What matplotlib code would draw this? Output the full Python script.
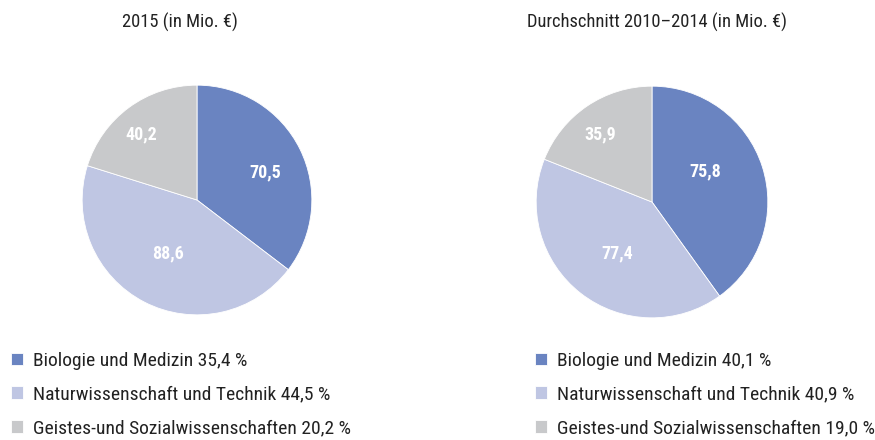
import numpy as np
import matplotlib
matplotlib.use("Agg")
import matplotlib.pyplot as plt

plt.rcParams["font.family"] = ["Roboto Condensed", "DejaVu Sans"]

# Data #

categories = ["Biologie und Medizin", "Naturwissenschaft und Technik",
              "Geistes-und Sozialwissenschaften"]
values_2015 = [70.5, 88.6, 40.2]
share_2015 = ["35,4", "44,5", "20,2"]
values_avg = [75.8, 77.4, 35.9]
share_avg = ["40,1", "40,9", "19,0"]
titles = ["2015 (in Mio. €)", "Durchschnitt 2010–2014 (in Mio. €)"]

colors = ["#6a84c1", "#bfc6e3", "#c8c9cb"]

W, H = 875, 440


def px_axes(fig, cx, cy, r):
    return fig.add_axes([(cx - r) / W, (H - cy - r) / H, 2 * r / W, 2 * r / H])


def draw_pie(ax, values, label_pos):
    wedges, _ = ax.pie(values, colors=colors, startangle=90, counterclock=False,
                       radius=1, wedgeprops=dict(linewidth=0.6, edgecolor="white"))
    # value labels, nudged (angle shift, radius factor) like the original
    for w, v, (dang, rf) in zip(wedges, values, label_pos):
        mid = np.deg2rad((w.theta1 + w.theta2) / 2 + dang)
        ax.text(rf * np.cos(mid), rf * np.sin(mid), f"{v:.1f}".replace(".", ","),
                ha="center", va="center", color="white", fontsize=13,
                fontweight="bold")
    ax.set_xlim(-1.01, 1.01)
    ax.set_ylim(-1.01, 1.01)
    ax.set_aspect("equal")
    ax.axis("off")
    return wedges


fig = plt.figure(figsize=(W / 100, H / 100), dpi=100)

ax1 = px_axes(fig, 197, 200, 116)
w1 = draw_pie(ax1, values_2015, [(-4, 0.64), (-1.5, 0.53), (4.4, 0.75)])
ax2 = px_axes(fig, 652, 202, 117)
w2 = draw_pie(ax2, values_avg, [(12, 0.53), (4, 0.54), (3.2, 0.73)])

fig.text(180 / W, 1 - 22 / H, titles[0], ha="center", va="center",
         fontsize=13.3, color="#222222")
fig.text(657 / W, 1 - 22 / H, titles[1], ha="center", va="center",
         fontsize=13.3, color="#222222")

# Legends below each pie #

for wedges, shares, x0 in [(w1, share_2015, 11), (w2, share_avg, 535)]:
    labels = [f"{c} {s} %" for c, s in zip(categories, shares)]
    fig.legend(wedges, labels, loc="upper left",
               bbox_to_anchor=(x0 / W, 1 - 352 / H), frameon=False,
               fontsize=14, handlelength=0.62, handleheight=0.62,
               handletextpad=0.52, labelspacing=0.8, borderpad=0,
               borderaxespad=0, labelcolor="#222222")

fig.savefig("out.png", dpi=100)
